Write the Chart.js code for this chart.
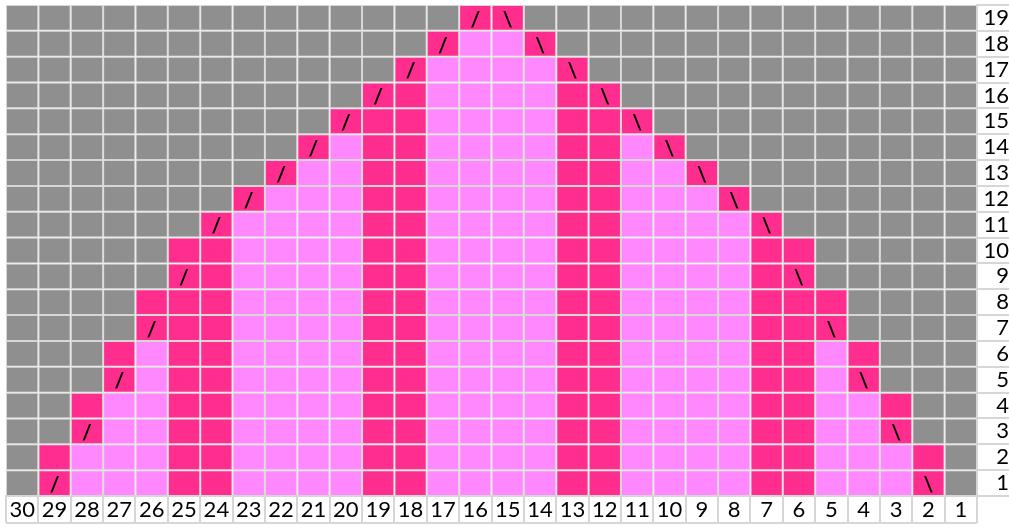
<!DOCTYPE html>
<html lang="en">
<head>
<meta charset="UTF-8">
<title>Chart</title>
<style>
    html, body { margin: 0; padding: 0; background: #fff; }
    #wrap { width: 1009px; height: 529px; }
</style>
<script src="https://cdn.jsdelivr.net/npm/chart.js@4.4.0/dist/chart.umd.min.js"></script>
</head>
<body>
<div id="wrap"><canvas id="chart"></canvas></div>
<script>
    // column numbers, left to right
    var colLabels = ['30', '29', '28', '27', '26', '25', '24', '23', '22', '21', '20', '19', '18', '17', '16',
        '15', '14', '13', '12', '11', '10', '9', '8', '7', '6', '5', '4', '3', '2', '1'];
    // row numbers, bottom to top
    var rowLabels = ['1', '2', '3', '4', '5', '6', '7', '8', '9', '10', '11', '12', '13', '14', '15', '16', '17', '18', '19'];

    // one string per row (row 1 first), one char per column (col 30 first)
    // G = no stitch, L = light pink, H = dark pink, / and \ = dark pink with slant mark
    var chartRows = [
        'G/LLLHHLLLLHHLLLLHHLLLLHHLLL\\G',
        'GHLLLHHLLLLHHLLLLHHLLLLHHLLLHG',
        'GG/LLHHLLLLHHLLLLHHLLLLHHLL\\GG',
        'GGHLLHHLLLLHHLLLLHHLLLLHHLLHGG',
        'GGG/LHHLLLLHHLLLLHHLLLLHHL\\GGG',
        'GGGHLHHLLLLHHLLLLHHLLLLHHLHGGG',
        'GGGG/HHLLLLHHLLLLHHLLLLHH\\GGGG',
        'GGGGHHHLLLLHHLLLLHHLLLLHHHGGGG',
        'GGGGG/HLLLLHHLLLLHHLLLLH\\GGGGG',
        'GGGGGHHLLLLHHLLLLHHLLLLHHGGGGG',
        'GGGGGG/LLLLHHLLLLHHLLLL\\GGGGGG',
        'GGGGGGG/LLLHHLLLLHHLLL\\GGGGGGG',
        'GGGGGGGG/LLHHLLLLHHLL\\GGGGGGGG',
        'GGGGGGGGG/LHHLLLLHHL\\GGGGGGGGG',
        'GGGGGGGGGG/HHLLLLHH\\GGGGGGGGGG',
        'GGGGGGGGGGG/HLLLLH\\GGGGGGGGGGG',
        'GGGGGGGGGGGG/LLLL\\GGGGGGGGGGGG',
        'GGGGGGGGGGGGG/LL\\GGGGGGGGGGGGG',
        'GGGGGGGGGGGGGG/\\GGGGGGGGGGGGGG'
    ];

    var cellColors = { 'G': '#8f8f8f', 'L': '#ff88ff', 'H': '#ff2e8e', '/': '#ff2e8e', '\\': '#ff2e8e' };
    var gridColor = '#d6d6d6';
    var labelFont = { family: 'Lato', size: 22 };

    var datasets = chartRows.map(function(row, r) {
        var cells = row.split('');
        return {
            label: rowLabels[r],
            data: cells.map(function() { return 1; }),
            backgroundColor: cells.map(function(c) { return cellColors[c]; }),
            borderColor: gridColor,
            borderWidth: 1,
            borderSkipped: false,
            inflateAmount: 0,
            barPercentage: 1,
            categoryPercentage: 1
        };
    });

    var marksPlugin = {
        id: 'marks',
        afterDatasetsDraw: function(chart) {
            var ctx = chart.ctx;
            ctx.save();
            ctx.fillStyle = '#000';
            ctx.font = 'bold 21px Lato';
            ctx.textAlign = 'center';
            ctx.textBaseline = 'middle';
            chartRows.forEach(function(row, r) {
                var meta = chart.getDatasetMeta(r);
                row.split('').forEach(function(ch, i) {
                    if (ch === '/' || ch === '\\') {
                        var bar = meta.data[i];
                        ctx.fillText(ch, bar.x, (bar.y + bar.base) / 2 + 2);
                    }
                });
            });
            // closing line under the column numbers
            var xs = chart.scales.x;
            ctx.strokeStyle = gridColor;
            ctx.lineWidth = 2;
            ctx.beginPath();
            ctx.moveTo(xs.left, xs.bottom);
            ctx.lineTo(xs.right, xs.bottom);
            ctx.stroke();
            ctx.restore();
        }
    };

    new Chart(document.getElementById('chart'), {
        type: 'bar',
        data: { labels: colLabels, datasets: datasets },
        plugins: [marksPlugin],
        options: {
            responsive: true,
            maintainAspectRatio: false,
            animation: false,
            layout: { padding: { left: 6, top: 5, right: 0, bottom: 6 } },
            plugins: { legend: { display: false }, tooltip: { enabled: false } },
            scales: {
                x: {
                    stacked: true,
                    position: 'bottom',
                    offset: true,
                    grid: { offset: true, drawOnChartArea: false, tickLength: 27, color: gridColor, lineWidth: 2 },
                    border: { color: gridColor, width: 2 },
                    ticks: { color: '#000', font: labelFont, padding: -26, maxRotation: 0, autoSkip: false },
                    afterFit: function(s) { s.height = 27; }
                },
                y: {
                    stacked: true,
                    display: false,
                    min: 0,
                    max: 19
                },
                y2: {
                    type: 'category',
                    labels: rowLabels.slice().reverse(),
                    position: 'right',
                    offset: true,
                    grid: { offset: true, drawOnChartArea: false, tickLength: 32, color: gridColor, lineWidth: 2 },
                    border: { color: gridColor, width: 2 },
                    ticks: { color: '#000', font: labelFont, crossAlign: 'far', padding: -29, autoSkip: false },
                    afterFit: function(s) { s.width = 32; }
                }
            }
        }
    });
</script>
</body>
</html>
